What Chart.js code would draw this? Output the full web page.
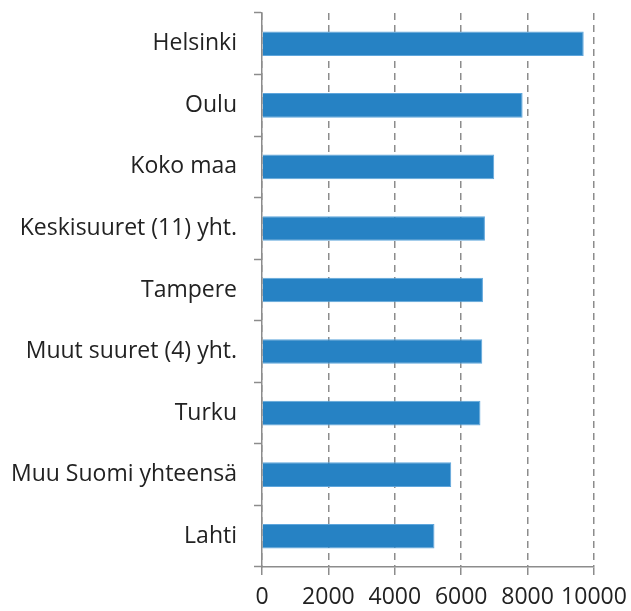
<!DOCTYPE html>
<html>
<head>
<meta charset="utf-8">
<script src="https://cdn.jsdelivr.net/npm/chart.js@4/dist/chart.umd.min.js"></script>
<style>
    html, body { margin: 0; padding: 0; background: #fff; }
    #wrap { width: 631px; height: 611px; }
</style>
</head>
<body>
<div id="wrap"><canvas id="barChart" width="631" height="611"></canvas></div>
<script>
// values
const categories = ['Helsinki', 'Oulu', 'Koko maa', 'Keskisuuret (11) yht.', 'Tampere',
    'Muut suuret (4) yht.', 'Turku', 'Muu Suomi yhteensä', 'Lahti'];
const values = [9690, 7850, 6995, 6715, 6655, 6635, 6580, 5700, 5195];
const xTicks = [0, 2000, 4000, 6000, 8000, 10000];

const axisGrey = '#8c8c8c';
const labelFont = { family: "'Open Sans', 'Liberation Sans', sans-serif", size: 23 };

const ctx = document.getElementById('barChart').getContext('2d');
new Chart(ctx, {
    type: 'bar',
    data: {
        labels: categories,
        datasets: [{
            data: values,
            backgroundColor: '#2682c4',
            borderColor: '#5fa6dc',
            borderWidth: 1,
            categoryPercentage: 0.8,
            barPercentage: 0.5
        }]
    },
    options: {
        indexAxis: 'y',
        responsive: false,
        animation: false,
        layout: { padding: { top: 13, right: 37, left: 0, bottom: 0 } },
        plugins: { legend: { display: false }, tooltip: { enabled: false } },
        scales: {
            x: {
                min: 0,
                max: 10000,
                afterBuildTicks: s => { s.ticks = xTicks.map(v => ({ value: v })); },
                afterFit: s => { s.height = 44; s.paddingLeft = 0; s.paddingRight = 0; },
                ticks: {
                    color: '#222', font: labelFont, padding: 9,
                    autoSkip: false, maxRotation: 0, minRotation: 0,
                    callback: v => String(v)
                },
                grid: {
                    color: axisGrey,
                    lineWidth: 1.5,
                    drawTicks: true,
                    tickLength: 8,
                    tickColor: axisGrey,
                    tickWidth: 1.5
                },
                border: { display: true, color: axisGrey, width: 1.5, dash: [7, 5] }
            },
            y: {
                afterFit: s => { s.width = 262; s.paddingTop = 0; s.paddingBottom = 0; },
                ticks: { color: '#222', font: labelFont, padding: 17, autoSkip: false },
                grid: {
                    offset: true,
                    drawOnChartArea: false,
                    drawTicks: true,
                    tickLength: 8,
                    tickColor: axisGrey,
                    tickWidth: 1.5
                },
                border: { display: true, color: axisGrey, width: 1.5 }
            }
        }
    }
});
</script>
</body>
</html>
